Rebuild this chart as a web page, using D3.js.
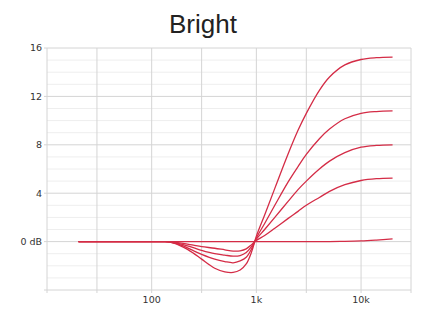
<!DOCTYPE html>
<html>
<head>
<meta charset="utf-8">
<script src="https://cdn.jsdelivr.net/npm/d3@7"></script>
<style>
  html, body { margin: 0; padding: 0; background: #fff; }
  svg { display: block; }
</style>
</head>
<body>
<svg id="chart" width="427" height="319"></svg>
<script>
// ---- data ----
const title = "Bright";
const freqs = [20, 50, 100, 130, 150, 200, 250, 300, 400, 500, 600, 700, 800, 900, 1000,
               1200, 1500, 2000, 2500, 3000, 4000, 5000, 7000, 10000, 14000, 20000];
const boostMax  = [0, 0, 0, 0, -0.05, -0.45, -0.95, -1.45, -2.2, -2.5, -2.55, -2.35, -1.85, -0.85, 0.45,
                   2.2, 4.4, 7.2, 9.2, 10.6, 12.5, 13.6, 14.6, 15.05, 15.2, 15.25];
const boostHigh = [0, 0, 0, 0, -0.04, -0.35, -0.75, -1.05, -1.45, -1.65, -1.75, -1.6, -1.3, -0.6, 0.3,
                   1.5, 3.0, 4.9, 6.2, 7.2, 8.5, 9.3, 10.15, 10.6, 10.75, 10.8];
const boostMid  = [0, 0, 0, 0, -0.03, -0.25, -0.5, -0.72, -1.0, -1.12, -1.2, -1.15, -0.9, -0.4, 0.2,
                   1.0, 2.0, 3.3, 4.3, 5.0, 6.0, 6.65, 7.35, 7.8, 7.95, 8.0];
const boostLow  = [0, 0, 0, 0, -0.02, -0.15, -0.3, -0.42, -0.55, -0.68, -0.78, -0.76, -0.6, -0.25, 0.1,
                   0.5, 1.1, 1.9, 2.5, 3.0, 3.65, 4.15, 4.7, 5.05, 5.2, 5.25];
const flat      = [0, 0, 0, 0, 0, 0, 0, 0, 0, 0, 0, 0, 0, 0, 0,
                   0, 0, 0, 0, 0, 0, 0, 0.02, 0.06, 0.13, 0.22];
const series = [boostMax, boostHigh, boostMid, boostLow, flat];

const xGrid = [10, 30, 100, 300, 1000, 3000, 10000, 30000];
const xTickValues = [100, 1000, 10000];
const xTickLabels = ["100", "1k", "10k"];
const yMajor = [-4, 0, 4, 8, 12, 16];
const yTickValues = [0, 4, 8, 12, 16];
const yTickLabels = ["0 dB", "4", "8", "12", "16"];
const yMinor = [-3, -2, -1, 1, 2, 3, 5, 6, 7, 9, 10, 11, 13, 14, 15];

// ---- layout ----
const svg = d3.select("#chart");
const L = 47, R = 411, T = 48, B = 290;
const x = d3.scaleLog().domain([10, 30000]).range([L, R]);
const y = d3.scaleLinear().domain([-4, 16]).range([B, T]);

// minor horizontal grid
svg.append("g").selectAll("line").data(yMinor).join("line")
  .attr("x1", L).attr("x2", R)
  .attr("y1", d => y(d)).attr("y2", d => y(d))
  .attr("stroke", "#eeeeee").attr("stroke-width", 1);

// major horizontal grid
svg.append("g").selectAll("line").data(yMajor).join("line")
  .attr("x1", L - 3).attr("x2", R)
  .attr("y1", d => y(d)).attr("y2", d => y(d))
  .attr("stroke", "#d4d4d4").attr("stroke-width", 1);

// vertical grid
svg.append("g").selectAll("line").data(xGrid).join("line")
  .attr("x1", d => x(d)).attr("x2", d => x(d))
  .attr("y1", T).attr("y2", B + 3)
  .attr("stroke", "#d4d4d4").attr("stroke-width", 1);

// y labels
svg.append("g").selectAll("text").data(yTickValues).join("text")
  .attr("x", L - 5).attr("y", d => y(d))
  .attr("dy", "0.35em").attr("text-anchor", "end")
  .attr("font-family", "DejaVu Sans, sans-serif").attr("font-size", 9.5)
  .attr("fill", "#333")
  .text((d, i) => yTickLabels[i]);

// x labels
svg.append("g").selectAll("text").data(xTickValues).join("text")
  .attr("x", d => x(d)).attr("y", 303)
  .attr("text-anchor", "middle")
  .attr("font-family", "DejaVu Sans, sans-serif").attr("font-size", 9.5)
  .attr("fill", "#333")
  .text((d, i) => xTickLabels[i]);

// curves
const line = d3.line()
  .x((d, i) => x(freqs[i]))
  .y(d => y(d))
  .curve(d3.curveCatmullRom.alpha(0.5));

svg.append("g").selectAll("path").data(series).join("path")
  .attr("d", d => line(d))
  .attr("fill", "none")
  .attr("stroke", "#d42c46")
  .attr("stroke-width", 1.3);

// title
svg.append("text")
  .attr("x", 203).attr("y", 33)
  .attr("text-anchor", "middle")
  .attr("font-family", "Liberation Sans, Arial, sans-serif")
  .attr("font-size", 26)
  .attr("fill", "#222")
  .text(title);
</script>
</body>
</html>
